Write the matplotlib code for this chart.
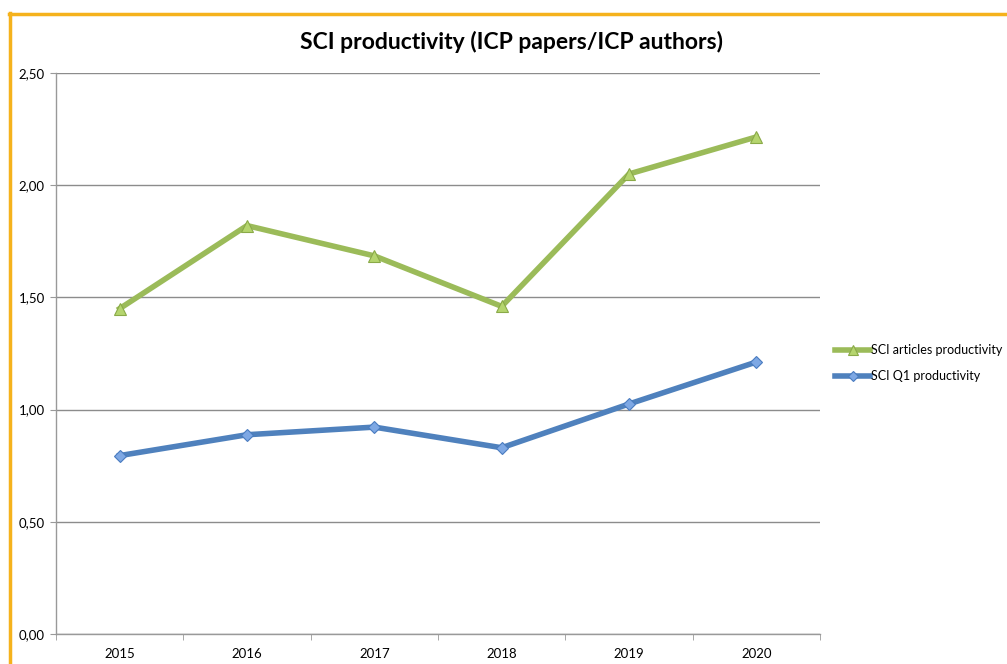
import numpy as np
import matplotlib.pyplot as plt
from matplotlib.lines import Line2D

years = ['2015', '2016', '2017', '2018', '2019', '2020']
sci_articles = [1.45, 1.82, 1.685, 1.46, 2.05, 2.215]
sci_q1 = [0.795, 0.888, 0.922, 0.83, 1.025, 1.212]

plt.rcParams['font.family'] = ['Lato', 'DejaVu Sans']

fig = plt.figure(figsize=(10.07, 6.64), dpi=100)
ax = fig.add_axes([56 / 1007, 1 - 634 / 664, 764 / 1007, 561 / 664])

x = np.arange(len(years))
ax.plot(x, sci_articles, color='#9BBB59', lw=4, marker='^', ms=9,
        mfc='#B5D56E', mec='#8AAA48', mew=0.8, label='SCI articles productivity')
ax.plot(x, sci_q1, color='#4F81BD', lw=4, marker='D', ms=6.5,
        mfc='#7EA8E4', mec='#4A7CC0', mew=0.8, label='SCI Q1 productivity')

ax.set_xlim(-0.5, len(years) - 0.5)
ax.set_ylim(0, 2.5)
yt = [0, 0.5, 1.0, 1.5, 2.0, 2.5]
ax.set_yticks(yt)
ax.set_yticklabels([f'{v:.2f}'.replace('.', ',') for v in yt])
ax.set_xticks(x)
ax.set_xticklabels(years)
ax.set_xticks(np.arange(-0.5, len(years)), minor=True)
ax.tick_params(axis='x', which='major', length=0, pad=10, labelsize=9.5)
ax.tick_params(axis='x', which='minor', length=4, color='#999999', direction='out')
ax.tick_params(axis='y', length=4, color='#999999', labelsize=9.5, pad=4)
ax.grid(axis='y', color='#8c8c8c', lw=1)
ax.set_axisbelow(True)
for s in ['top', 'right']:
    ax.spines[s].set_visible(False)
for s in ['left', 'bottom']:
    ax.spines[s].set_color('#999999')
    ax.spines[s].set_linewidth(1)

fig.text(512 / 1007, 1 - 42 / 664, 'SCI productivity (ICP papers/ICP authors)',
         ha='center', va='center', fontsize=16.5, fontweight='bold')

fig.legend(*ax.get_legend_handles_labels(), loc='center left',
           bbox_to_anchor=(835 / 1007, 1 - 363 / 664), frameon=False,
           fontsize=9, handlelength=2.8, handletextpad=0.05, labelspacing=1.1,
           markerscale=0.8, borderpad=0, borderaxespad=0)

# orange frame (left and top edges visible)
fig.add_artist(Line2D([10 / 1007, 10 / 1007], [0, 1 - 13 / 664], color='#F5B21C', lw=2.5))
fig.add_artist(Line2D([9 / 1007, 1], [1 - 14 / 664, 1 - 14 / 664], color='#F5B21C', lw=2.5))

fig.savefig('out.png', dpi=100)
